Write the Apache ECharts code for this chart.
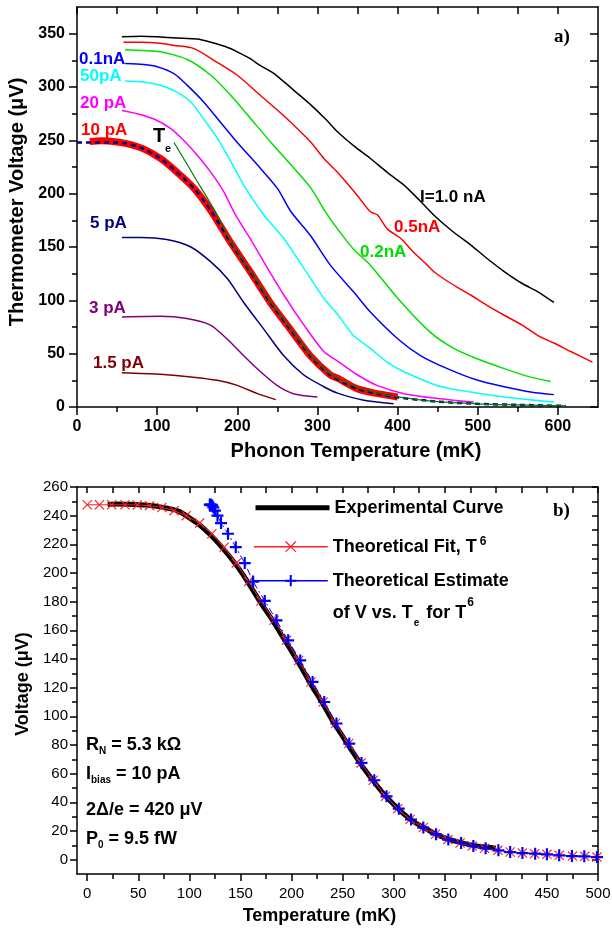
<!DOCTYPE html>
<html>
<head>
<meta charset="utf-8">
<title>Thermometer voltage vs temperature</title>
<script src="https://cdn.jsdelivr.net/npm/echarts@6.0.0/dist/echarts.min.js"></script>
<style>
  html, body { margin: 0; padding: 0; background: #ffffff; }
  #chart { width: 612px; height: 931px; }
</style>
</head>
<body>
<div id="chart"></div>
<script>
// ---------- Panel a) thermometer voltage vs phonon temperature ----------
const temp1nA   = [56, 80, 100, 125, 150, 167, 185, 200, 215, 229, 245, 258, 275, 292, 310, 325, 345, 366, 387, 408, 427, 445, 468, 491, 512, 533, 555, 575, 595];
const volt1nA   = [347, 347.5, 347, 346, 345, 342, 338, 333, 327, 320, 313, 305, 294, 283, 270, 258, 245, 233, 220, 208, 194, 180, 165, 152, 139, 127, 116, 108, 98];
const temp05nA  = [58, 80, 104, 121, 146, 175, 200, 229, 258, 292, 308, 325, 350, 366, 375, 387, 404, 420, 437, 445, 458, 475, 491, 512, 533, 555, 575, 595, 616, 643];
const volt05nA  = [342, 342, 341, 339, 336, 323, 311, 292, 273, 248, 233, 220, 198, 183, 180, 167, 158, 145, 133, 127, 120, 112, 105, 95, 86, 77, 67, 60, 52, 42];
const temp02nA  = [60, 104, 137, 167, 192, 217, 242, 267, 292, 310, 325, 345, 366, 400, 441, 470, 500, 533, 566, 591];
const volt02nA  = [335, 333, 326, 311, 292, 270, 248, 227, 205, 183, 167, 148, 133, 102, 70, 55, 45, 36, 28, 24];
const temp01nA  = [60, 83, 100, 121, 137, 158, 179, 200, 225, 250, 267, 291, 316, 345, 366, 400, 429, 462, 500, 533, 566, 595];
const volt01nA  = [322, 321, 319, 312.5, 302, 286, 267, 248, 227, 205, 183, 161, 133, 108, 89, 64, 48, 36, 25, 19, 14, 11.6];
const temp50pA  = [60, 83, 104, 125, 142, 158, 175, 192, 208, 233, 258, 283, 308, 325, 345, 366, 387, 408, 450, 491, 533, 595];
const volt50pA  = [305.6, 304.7, 301.6, 295, 286, 270, 252, 230, 208, 180, 158, 130, 102, 87, 67, 55, 42, 33, 20, 14, 9.4, 4.7];
const temp20pA  = [56, 75, 96, 117, 133, 150, 167, 183, 197, 216, 233, 258, 283, 308, 325, 350, 375, 408, 450, 495];
const volt20pA  = [278, 275, 270, 261, 250, 236, 220, 202, 181, 158, 136, 105, 77, 52, 43, 30, 20, 12.5, 8, 4.7];
const temp10pA  = [16, 30, 45, 62, 83, 104, 125, 146, 167, 191, 216, 241, 266, 291, 316, 325, 350, 375, 400];
const volt10pA  = [249, 249.5, 249, 247, 242, 233, 220, 205, 184, 155, 127, 98, 73, 48, 30, 27, 17, 12.5, 9.4];
const tempElec  = [0, 16, 45, 62, 83, 104, 125, 146, 167, 191, 216, 241, 266, 291, 316, 350, 375, 400, 450, 500, 550, 610];
const voltElec  = [248, 248, 248, 247, 242, 233, 220, 205, 184, 155, 127, 98, 73, 48, 30, 17, 12.5, 9, 5, 3, 2, 1];
const tempTe    = [121, 148, 175, 191, 216, 241, 266, 291, 316, 350, 375, 400, 450, 500, 550, 610];
const voltTe    = [248, 214, 180, 156, 128, 99, 74, 49, 31, 18, 13, 9.5, 5, 3, 2, 1];
const temp5pA   = [56, 80, 112, 142, 167, 188, 208, 233, 258, 283, 308, 325, 358, 395];
const volt5pA   = [159, 159, 157, 150, 136, 120, 98, 73, 48, 30, 19, 13, 6.3, 3.1];
const temp3pA   = [56, 104, 137, 166, 187, 208, 229, 250, 270, 300];
const volt3pA   = [84.4, 85, 83, 77, 64, 48, 33, 20, 12.5, 9.4];
const temp15pA  = [56, 104, 145, 175, 200, 225, 248];
const volt15pA  = [32, 30.6, 28, 25, 20.3, 12.5, 6.9];

const phononTicks      = [0, 100, 200, 300, 400, 500, 600];
const phononMinorTicks = [50, 150, 250, 350, 450, 550];
const voltTicksA       = [0, 50, 100, 150, 200, 250, 300, 350];
const voltMinorTicksA  = [25, 75, 125, 175, 225, 275, 325];

// ---------- Panel b) 10 pA curve and T^6 model ----------
const expTemp = [20, 30, 40, 50, 60, 70, 80, 90, 100, 110, 120, 130, 140, 150, 160, 170, 180, 190, 200, 210, 220, 230, 240, 250, 260, 270, 280, 290, 300, 310, 320, 330, 340, 350, 360, 370, 380, 390, 400];
const expVolt = [248, 248.2, 248, 247.7, 247.2, 246.3, 245, 243, 238.5, 233.5, 227, 219.5, 211, 201.5, 190.5, 179, 168.5, 157, 145.5, 133.5, 121, 109.5, 97, 86, 75, 64.5, 55, 46, 38.5, 31.8, 26.3, 22.2, 18.3, 15.2, 12.9, 11.2, 9.8, 8.8, 8.0];
const fitTemp = [0, 12, 24, 37, 49, 61, 73, 85, 97, 110, 122, 134, 146, 158, 170, 183, 195, 207, 219, 231, 243, 256, 268, 280, 292, 304, 316, 329, 341, 353, 365, 377, 389, 402, 414, 426, 438, 450, 462, 475, 487, 499];
const fitVolt = [247.6, 247.6, 247.6, 247.6, 247.5, 247, 245.7, 243.5, 240, 234.8, 227.4, 218, 206.9, 194, 180.5, 167, 153, 139, 124, 110, 95, 81, 67.5, 55.4, 44.2, 35.6, 28, 22.4, 17.7, 14, 11.6, 9.5, 7.9, 6.5, 5.3, 4.6, 4.2, 3.7, 3.0, 2.5, 2.3, 1.8];
const elecTemp = [120, 120.3, 120.6, 121, 121.5, 122.5, 123.5, 125, 127.5, 131, 137.8, 145.4, 154.2, 162.4, 173.8, 185.3, 196.7, 208.5, 220.6, 232, 244, 256.5, 268.5, 281, 293, 305, 317, 329, 341.5, 353.5, 366, 378, 390, 402.5, 414, 426, 438.5, 450, 462, 474.5, 486.6, 499];

const tempTicksB      = [0, 50, 100, 150, 200, 250, 300, 350, 400, 450, 500];
const tempMinorTicksB = [25, 75, 125, 175, 225, 275, 325, 375, 425, 475];
const voltTicksB      = [0, 20, 40, 60, 80, 100, 120, 140, 160, 180, 200, 220, 240, 260];
const voltMinorTicksB = [10, 30, 50, 70, 90, 110, 130, 150, 170, 190, 210, 230, 250];

const FONT  = "'Liberation Sans', Arial, Helvetica, sans-serif";
const SERIF = "'Liberation Serif', 'Times New Roman', serif";

const pairs = (xs, ys) => xs.map((x, i) => [x, ys[i]]);

// labelled axis + minor-tick axis on one side, plain mirrored axis on the other
function frameAxes(dim, gridIndex, min, max, majors, minors, o) {
  const lineStyle = { color: '#000', width: 1.5 };
  const mainPos = dim === 'x' ? 'bottom' : 'left';
  const mirrorPos = dim === 'x' ? 'top' : 'right';
  const base = { type: 'value', gridIndex, min, max, splitLine: { show: false }, splitArea: { show: false } };
  const main = Object.assign({}, base, {
    position: mainPos,
    axisLine: { show: true, onZero: false, lineStyle },
    axisTick: { show: true, inside: false, length: o.majorLen, customValues: majors, lineStyle },
    axisLabel: { show: true, customValues: majors, margin: o.margin, fontSize: o.fontSize, fontWeight: o.fontWeight,
                 fontFamily: FONT, color: '#000', hideOverlap: false },
    name: o.name, nameLocation: 'middle', nameGap: o.nameGap,
    nameTextStyle: { fontFamily: FONT, fontWeight: 'bold', fontSize: o.nameSize, color: '#000', padding: o.namePad }
  });
  const mirror = Object.assign({}, base, {
    position: mirrorPos,
    axisLine: { show: true, onZero: false, lineStyle },
    axisTick: { show: true, inside: true, length: o.mirrorLen, customValues: majors.concat(minors), lineStyle },
    axisLabel: { show: false }
  });
  const minor = Object.assign({}, base, {
    position: mainPos,
    axisLine: { show: false, onZero: false },
    axisTick: { show: true, inside: false, length: o.minorLen, customValues: minors, lineStyle },
    axisLabel: { show: false }
  });
  return [main, mirror, minor];
}

function curveA(name, xs, ys, color, width, extra) {
  return Object.assign({
    type: 'line', name, xAxisIndex: 0, yAxisIndex: 0,
    data: pairs(xs, ys), symbol: 'none', showSymbol: false,
    smooth: 0.25, clip: true, silent: true,
    lineStyle: { color, width }, itemStyle: { color }, z: 2
  }, extra || {});
}

const X_MARK = 'path://M0,0.8L0.8,0L5,4.2L9.2,0L10,0.8L5.8,5L10,9.2L9.2,10L5,5.8L0.8,10L0,9.2L4.2,5Z';
const PLUS   = 'path://M4.1,0H5.9V4.1H10V5.9H5.9V10H4.1V5.9H0V4.1H4.1Z';

function label(text, x, y, color, size) {
  return { type: 'text', x, y, silent: true, z: 100,
    style: { text, fill: color, fontFamily: FONT, fontWeight: 'bold', fontSize: size || 17,
             align: 'left', verticalAlign: 'middle' } };
}
function richLabel(text, x, y, rich) {
  return { type: 'text', x, y, silent: true, z: 100,
    style: { text, rich, fill: '#000', fontFamily: FONT, fontWeight: 'bold', fontSize: 18,
             align: 'left', verticalAlign: 'middle' } };
}

const legendText = { fontFamily: FONT, fontWeight: 'bold', fontSize: 18, lineHeight: 22, color: '#000' };

const topX = frameAxes('x', 0, 0, 650, phononTicks, phononMinorTicks,
  { majorLen: 8, minorLen: 5, mirrorLen: 7, margin: 12, fontSize: 16, fontWeight: 'bold',
    name: 'Phonon Temperature (mK)', nameGap: 34, nameSize: 20, namePad: [0, 0, 0, 37] });
const topY = frameAxes('y', 0, 0, 375, voltTicksA, voltMinorTicksA,
  { majorLen: 8, minorLen: 5, mirrorLen: 8, margin: 12, fontSize: 16, fontWeight: 'bold',
    name: 'Thermometer Voltage (\u03bcV)', nameGap: 47, nameSize: 20, namePad: [0, 0, 0, 10] });
const botX = frameAxes('x', 1, -10, 500, tempTicksB, tempMinorTicksB,
  { majorLen: 7, minorLen: 5, mirrorLen: 6, margin: 12, fontSize: 15, fontWeight: 'normal',
    name: 'Temperature (mK)', nameGap: 33, nameSize: 18, namePad: [0, 36, 0, 0] });
const botY = frameAxes('y', 1, -10, 260, voltTicksB, voltMinorTicksB,
  { majorLen: 7, minorLen: 5, mirrorLen: 6, margin: 9, fontSize: 15, fontWeight: 'normal',
    name: 'Voltage (\u03bcV)', nameGap: 45, nameSize: 18, namePad: [0, 7, 0, 0] });

const option = {
  animation: false,
  backgroundColor: '#ffffff',
  grid: [
    { left: 77, top: 7, width: 521, height: 400, outerBoundsMode: 'none', containLabel: false },
    { left: 77, top: 487, width: 521, height: 387, outerBoundsMode: 'none', containLabel: false }
  ],
  xAxis: topX.concat(botX),
  yAxis: topY.concat(botY),
  legend: [
    { data: ['Experimental Curve'], left: 253, top: 496.7, orient: 'vertical', padding: 0,
      itemWidth: 74, itemHeight: 14, itemGap: 0, selectedMode: false,
      lineStyle: { width: 5 }, itemStyle: { opacity: 0 },
      textStyle: legendText },
    { data: ['Theoretical Fit, T6'], left: 253, top: 535.7, orient: 'vertical', padding: 0,
      itemWidth: 74, itemHeight: 14, itemGap: 0, selectedMode: false,
      lineStyle: { width: 1.5 },
      formatter: () => '{m|Theoretical Fit, T}{sup|6}',
      textStyle: Object.assign({}, legendText, { rich: {
        m: { fontFamily: FONT, fontWeight: 'bold', fontSize: 18, lineHeight: 22, color: '#000' },
        sup: { fontFamily: FONT, fontWeight: 'bold', fontSize: 12, lineHeight: 9, verticalAlign: 'top', color: '#000', padding: [0, 0, 0, 3] }
      } }) },
    { data: ['Theoretical Estimate'], left: 253, top: 532.7, orient: 'vertical', padding: 0,
      itemWidth: 74, itemHeight: 14, itemGap: 0, selectedMode: false,
      lineStyle: { type: 'solid', width: 1.5 },
      formatter: () => '\n{m|Theoretical Estimate}\n{m|of V vs. T}{sub|e}{m| for T}{sup|6}',
      textStyle: Object.assign({}, legendText, { lineHeight: 32, rich: {
        m: { fontFamily: FONT, fontWeight: 'bold', fontSize: 18, lineHeight: 32, color: '#000' },
        sub: { fontFamily: FONT, fontWeight: 'bold', fontSize: 10, lineHeight: 9, verticalAlign: 'bottom', color: '#000', padding: [0, 2, 0, 1] },
        sup: { fontFamily: FONT, fontWeight: 'bold', fontSize: 12, lineHeight: 12, verticalAlign: 'top', color: '#000', padding: [0, 0, 0, 1] }
      } }) }
  ],
  series: [
    curveA('I=1.0 nA', temp1nA, volt1nA, '#000000', 1.5),
    curveA('0.5nA', temp05nA, volt05nA, '#ff0000', 1.5),
    curveA('0.2nA', temp02nA, volt02nA, '#00e000', 1.5),
    curveA('0.1nA', temp01nA, volt01nA, '#0000ff', 1.5),
    curveA('50pA', temp50pA, volt50pA, '#00ffff', 1.5),
    curveA('20 pA', temp20pA, volt20pA, '#ff00ff', 1.5),
    curveA('10 pA', temp10pA, volt10pA, '#ff0000', 7, { z: 3 }),
    curveA('10 pA vs Te', tempElec, voltElec, '#000080', 2.5, { z: 4, lineStyle: { color: '#000080', width: 2.5, type: [5, 4] } }),
    curveA('Te', tempTe, voltTe, '#007a00', 1.2, { z: 5 }),
    curveA('5 pA', temp5pA, volt5pA, '#000080', 1.5),
    curveA('3 pA', temp3pA, volt3pA, '#800080', 1.5),
    curveA('1.5 pA', temp15pA, volt15pA, '#800000', 1.5),
    {
      type: 'line', name: 'Experimental Curve', xAxisIndex: 3, yAxisIndex: 3,
      data: pairs(expTemp, expVolt), symbol: 'none', showSymbol: false,
      smooth: 0.25, silent: true, z: 2,
      lineStyle: { color: '#000000', width: 5 }, itemStyle: { color: '#000000' }
    },
    {
      type: 'line', name: 'Theoretical Fit, T6', xAxisIndex: 3, yAxisIndex: 3,
      data: pairs(fitTemp, fitVolt), symbol: X_MARK, symbolSize: 10, showSymbol: true, showAllSymbol: true,
      silent: true, z: 3,
      lineStyle: { color: '#ff2020', width: 1 }, itemStyle: { color: '#ff2020' }
    },
    {
      type: 'line', name: 'Theoretical Estimate', xAxisIndex: 3, yAxisIndex: 3,
      data: pairs(elecTemp, fitVolt), symbol: PLUS, symbolSize: 12, showSymbol: true, showAllSymbol: true,
      silent: true, z: 4,
      lineStyle: { color: '#0000ff', width: 1, type: [7, 3, 2, 3] }, itemStyle: { color: '#0000ff' }
    }
  ],
  graphic: [
    label('0.1nA', 79, 59, '#0000ff'),
    label('50pA', 80, 76, '#00ffff'),
    label('20 pA', 80, 103, '#ff00ff'),
    label('10 pA', 81, 130, '#ff0000'),
    label('T', 153, 136, '#000000', 20),
    label('e', 165, 148.5, '#000000', 11),
    label('5 pA', 90, 223, '#000080'),
    label('3 pA', 89, 308, '#800080'),
    label('1.5 pA', 93, 363.5, '#800000'),
    label('I=1.0 nA', 420, 197, '#000000'),
    label('0.5nA', 394, 227, '#ff0000'),
    label('0.2nA', 360, 252, '#00e000'),
    { type: 'text', x: 554, y: 37, silent: true, z: 100,
      style: { text: 'a)', fill: '#000', fontFamily: SERIF, fontWeight: 'bold', fontSize: 19, align: 'left', verticalAlign: 'middle' } },
    { type: 'text', x: 553, y: 511, silent: true, z: 100,
      style: { text: 'b)', fill: '#000', fontFamily: SERIF, fontWeight: 'bold', fontSize: 19, align: 'left', verticalAlign: 'middle' } },
    richLabel('{m|R}{s|N}{m| = 5.3 k\u03a9}', 86, 745, {
      m: { fontFamily: FONT, fontWeight: 'bold', fontSize: 18, lineHeight: 22 },
      s: { fontFamily: FONT, fontWeight: 'bold', fontSize: 10, lineHeight: 8, verticalAlign: 'bottom' } }),
    richLabel('{m|I}{s|bias}{m| = 10 pA}', 86, 774, {
      m: { fontFamily: FONT, fontWeight: 'bold', fontSize: 18, lineHeight: 22 },
      s: { fontFamily: FONT, fontWeight: 'bold', fontSize: 10, lineHeight: 4, verticalAlign: 'bottom' } }),
    label('2\u0394/e = 420 \u03bcV', 86, 810, '#000000', 18),
    richLabel('{m|P}{s|0}{m| = 9.5 fW}', 86, 839, {
      m: { fontFamily: FONT, fontWeight: 'bold', fontSize: 18, lineHeight: 22 },
      s: { fontFamily: FONT, fontWeight: 'bold', fontSize: 10, lineHeight: 4, verticalAlign: 'bottom' } })
  ]
};

const chart = echarts.init(document.getElementById('chart'), null, { renderer: 'canvas', width: 612, height: 931 });
chart.setOption(option);
</script>
</body>
</html>
